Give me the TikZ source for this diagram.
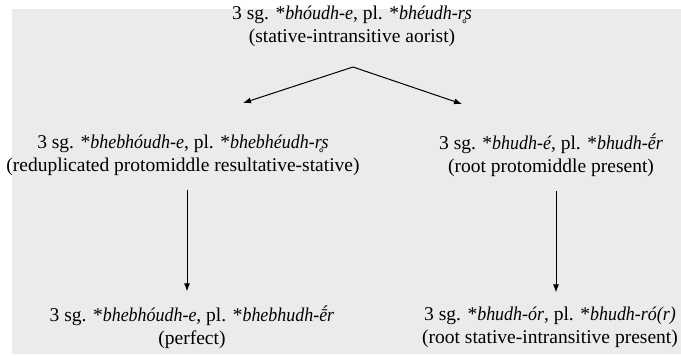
\documentclass[tikz,border=0pt]{standalone}
\usepackage{fontspec}
\setmainfont{Liberation Serif}[ItalicFeatures={FakeStretch=0.92}]
\usepackage{xcolor}
\usetikzlibrary{arrows.meta, positioning, calc}

\definecolor{panelgray}{RGB}{235,236,234}

\begin{document}
\begin{tikzpicture}[
		x=1pt, y=1pt,
		font=\fontsize{19.5}{23}\selectfont,
		form/.style={align=center, inner sep=0pt},
		deriv/.style={-{Latex[length=8pt,width=6pt]}, line width=1pt, black}
		]
		
		% Frame
		\useasboundingbox (0,0) rectangle (681,356);
		\fill[panelgray] (12,2) rectangle (681,347);
		
		% Source form
		\node[form] (aor) at (352,330) {
			3 sg. *\textit{bhóudh-e}, pl. *\textit{bhéudh-r̥s}\\
			(stative-intransitive aorist)
		};
		
		% Middle forms
		\node[form] (resst) at (183,201) {
			3 sg. *\textit{bhebhóudh-e}, pl. *\textit{bhebhéudh-r̥s}\\
			(reduplicated protomiddle resultative-stative)
		};
		\node[form] (pres) at (551,201) {
			3 sg. *\textit{bhudh-é}, pl. *\textit{bhudh-ḗr}\\
			(root protomiddle present)
		};
		
		% Final forms
		\node[form] (perf) at (192,29) {
			3 sg. *\textit{bhebhóudh-e}, pl. *\textit{bhebhudh-ḗr}\\
			(perfect)
		};
		\node[form] (stpres) at (550,29) {
			3 sg. *\textit{bhudh-ór}, pl. *\textit{bhudh-ró(r)}\\
			(root stative-intransitive present)
		};
		
		% Arrow ends
		\coordinate (apex) at (353,289);
		\coordinate (tipL) at (243,253);
		\coordinate (tipR) at (462,252);
		
		% Derivations
		\draw[deriv] (apex) -- (tipL);
		\draw[deriv] (apex) -- (tipR);
		\draw[deriv] ($(resst.south)+(4,-14)$) -- ($(perf.north)+(-5,14)$);
		\draw[deriv] ($(pres.south)+(5,-14)$) -- ($(stpres.north)+(6,14)$);
		
	\end{tikzpicture}
\end{document}
